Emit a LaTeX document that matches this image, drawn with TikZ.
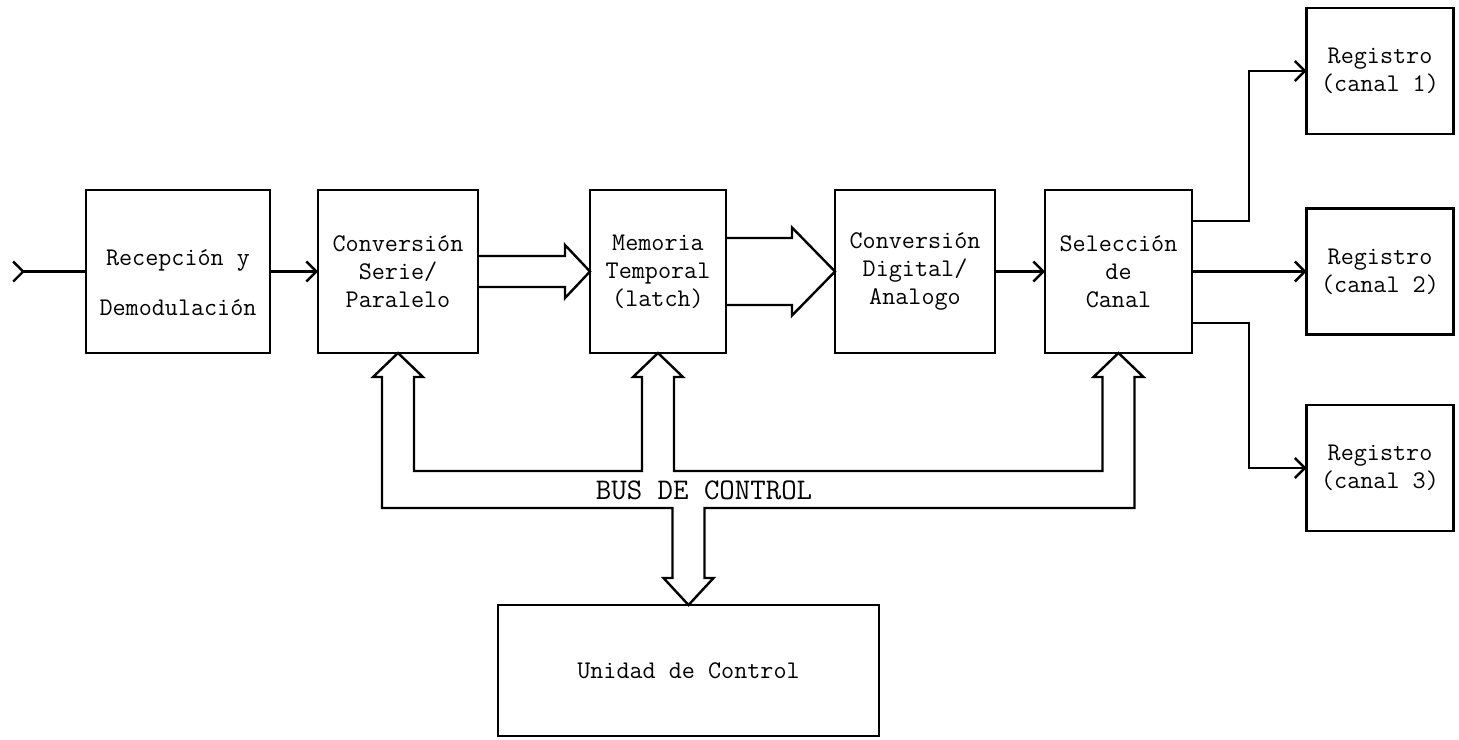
\documentclass[tikz,border=0pt]{standalone}
\usepackage{fontspec}
\usetikzlibrary{arrows.meta,positioning}
\newcommand{\boxfont}{\ttfamily\fontsize{12.7}{14}\selectfont}
\newcommand{\busfont}{\ttfamily\fontsize{15}{16}\selectfont}

\begin{document}
\begin{tikzpicture}[x=0.5pt,y=-0.5pt,>={Straight Barb[length=5pt,width=10pt]},line width=1.2pt,
    block node/.style={draw,rectangle,inner sep=0pt,outer sep=0pt,align=center,minimum height=81.5pt,font=\boxfont},
    reg node/.style={draw,rectangle,inner sep=0pt,outer sep=0pt,align=center,minimum width=73.5pt,minimum height=63pt,font=\boxfont}]

            \useasboundingbox (0,0) rectangle (1459,739);

            \node[block node,minimum width=92pt] (rec) at (178,271.5) {\rule{0pt}{19pt}Recepción y\\[11pt]Demodulación};
            \node[block node,minimum width=80pt,right=24pt of rec] (sp) {Conversión\\Serie/\\Paralelo};
            \node[block node,minimum width=68pt,right=56pt of sp] (mem) {Memoria\\Temporal\\(latch)};
            \node[block node,minimum width=80pt,right=54.5pt of mem] (da) {Conversión\\Digital/\\Analogo};
            \node[block node,minimum width=73.5pt,right=25pt of da] (sel) {Selección\\de\\Canal};

            \foreach \i/\y in {1/71,2/271.5,3/468}{
                \node[reg node] (reg\i) at (1380,\y) {Registro\\(canal \i)};
            }

            \node[block node,minimum width=190.5pt,minimum height=65.5pt] (ctl) at (688.5,670.5) {Unidad de Control};
            \node[font=\busfont] (buslbl) at (704,490) {BUS DE CONTROL};

            \coordinate (input) at (12,271.5);

            \draw[>-] (input) -- (rec);
            \draw[->] (rec) -- (sp);
            \draw[->] (da) -- (sel);
            \draw[->] (sel) -- (reg2);
            \draw[->] (sel.east) ++(0,-50.5) -| (1249,71) -- (reg1);
            \draw[->] (sel.east) ++(0,51.5) -| (1249,468) -- (reg3);

            \draw (sp.east) ++(0,-15.5) -- ++(87,0) -- ++(0,-11) -- (mem.west) -- ++(-25,26.5) -- ++(0,-11) -- ++(-87,0);
            \draw (mem.east) ++(0,-33.5) -- ++(66,0) -- ++(0,-10.5) -- (da.west) -- ++(-43,44) -- ++(0,-10.5) -- ++(-66,0);

            \draw (sp.south) -- ++(25,24) -- ++(-9,0) |- (642,471) -- (642,377) -- ++(-9,0)
                -- (mem.south) -- ++(25,24) -- ++(-9,0) |- (1102.5,471) -- (1102.5,377) -- ++(-9,0)
                -- (sel.south) -- ++(25,24) -- ++(-9,0) |- (704.5,508) -- (704.5,578) -- ++(9,0)
                -- (ctl.north) -- (663.5,578) -- ++(9,0) |- (382,508) -- (382,377) -- ++(-9,0) -- cycle;

\end{tikzpicture}
\end{document}
